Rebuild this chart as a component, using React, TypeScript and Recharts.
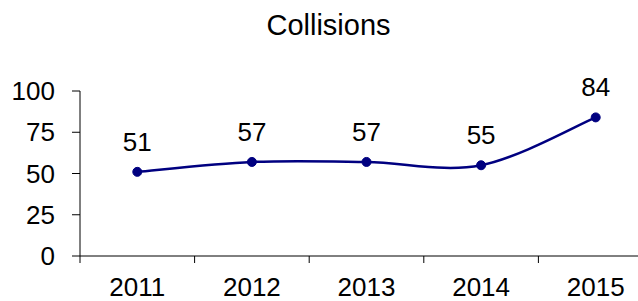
import { LineChart, Line, XAxis, YAxis, LabelList } from "recharts";

const years = ["2011", "2012", "2013", "2014", "2015"];
const collisions = [51, 57, 57, 55, 84];
const yTicks = [0, 25, 50, 75, 100];
const edgeTicks = [0, 1, 2, 3, 4, 5];

// slot = centre of each category band, used by the boundary-tick axis
const data = years.map((year, i) => ({ year, slot: i + 0.5, collisions: collisions[i] }));

// Excel-like smoothed line (Catmull-Rom through the points)
function smoothCurve(context: any) {
  let pts: number[][] = [];
  return {
    areaStart() {},
    areaEnd() {},
    lineStart() {
      pts = [];
    },
    point(x: number, y: number) {
      pts.push([+x, +y]);
    },
    lineEnd() {
      if (!pts.length) return;
      context.moveTo(pts[0][0], pts[0][1]);
      for (let i = 0; i < pts.length - 1; i++) {
        const p0 = pts[Math.max(i - 1, 0)];
        const p1 = pts[i];
        const p2 = pts[i + 1];
        const p3 = pts[Math.min(i + 2, pts.length - 1)];
        context.bezierCurveTo(
          p1[0] + (p2[0] - p0[0]) / 6,
          p1[1] + (p2[1] - p0[1]) / 6,
          p2[0] - (p3[0] - p1[0]) / 6,
          p2[1] - (p3[1] - p1[1]) / 6,
          p2[0],
          p2[1]
        );
      }
    },
  };
}

const FONT = "'Liberation Sans', Arial, sans-serif";

export default function App() {
  return (
    <div
      style={{
        position: "absolute",
        left: 0,
        top: 0,
        width: 638,
        height: 301,
        overflow: "hidden",
        background: "#fff",
        fontFamily: FONT,
      }}
    >
      <div
        style={{
          position: "absolute",
          left: 0,
          top: 9,
          width: 657,
          textAlign: "center",
          fontSize: 29,
          color: "#000",
        }}
      >
        Collisions
      </div>
      <LineChart
        width={660}
        height={301}
        data={data}
        margin={{ top: 91, right: 7, bottom: 0, left: 0 }}
      >
        {/* category boundaries: tick marks + the axis line */}
        <XAxis
          xAxisId="a_edges"
          dataKey="slot"
          type="number"
          domain={[0, 5]}
          ticks={edgeTicks}
          allowDataOverflow
          height={1}
          tickFormatter={() => ""}
          tickSize={7}
          axisLine={{ stroke: "#000" }}
          tickLine={{ stroke: "#000" }}
        />
        <XAxis
          xAxisId="b_cat"
          dataKey="year"
          scale="band"
          height={44}
          tickLine={false}
          tickSize={0}
          tickMargin={21}
          axisLine={false}
          tick={{ fill: "#000", fontSize: 26 }}
          interval={0}
        />
        <YAxis
          domain={[0, 100]}
          ticks={yTicks}
          width={80}
          tickSize={8}
          tickMargin={17}
          axisLine={{ stroke: "#000" }}
          tickLine={{ stroke: "#000" }}
          tick={{ fill: "#000", fontSize: 26 }}
        />
        <Line
          xAxisId="b_cat"
          dataKey="collisions"
          type={smoothCurve as any}
          stroke="#000080"
          strokeWidth={2.5}
          dot={{ r: 4.5, fill: "#000080", stroke: "#000080", strokeWidth: 1 }}
          isAnimationActive={false}
        >
          <LabelList
            dataKey="collisions"
            position="top"
            offset={21}
            fill="#000"
            fontSize={26}
          />
        </Line>
      </LineChart>
    </div>
  );
}
